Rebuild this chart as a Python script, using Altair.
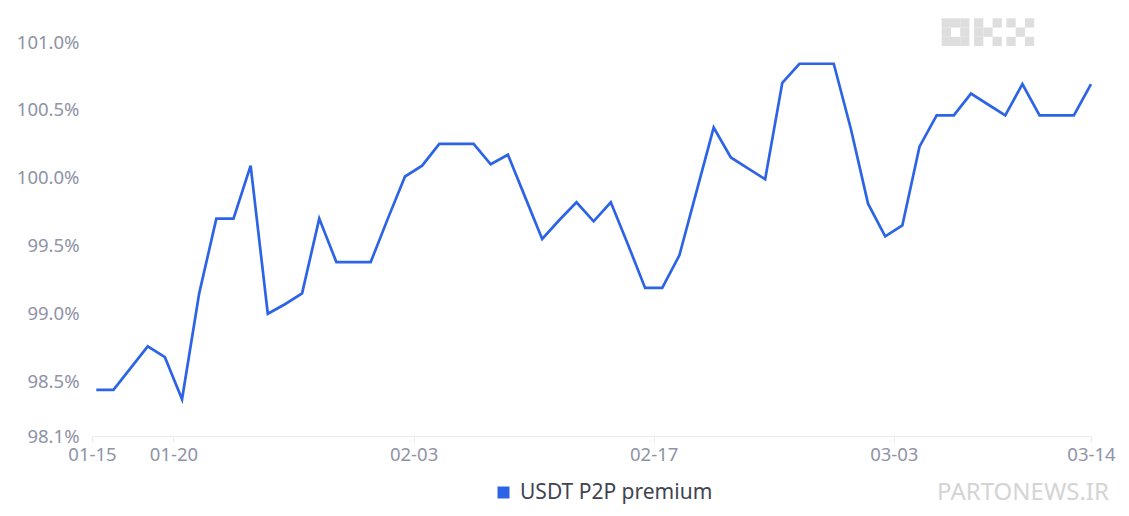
import altair as alt
import pandas as pd
from datetime import datetime, timedelta

# ---------------- data ----------------
series_name = ["USDT P2P premium"]

premium = [98.44, 98.44, 98.60, 98.76, 98.68, 98.37, 99.15, 99.70, 99.70, 100.09,
           99.00, 99.07, 99.15, 99.70, 99.38, 99.38, 99.38, 99.70, 100.01, 100.09,
           100.25, 100.25, 100.25, 100.10, 100.17, 99.86, 99.55, 99.69, 99.82, 99.68,
           99.82, 99.51, 99.19, 99.19, 99.43, 99.90, 100.37, 100.15, 100.07, 99.99,
           100.70, 100.84, 100.84, 100.84, 100.36, 99.81, 99.57, 99.65, 100.23, 100.46,
           100.46, 100.62, 100.54, 100.46, 100.69, 100.46, 100.46, 100.46, 100.69]

start_day = datetime(2023, 1, 15, 12)
dates = [(start_day + timedelta(days=i)).strftime("%Y-%m-%dT%H:%M:%S")
         for i in range(len(premium))]

y_ticks = [98.1, 98.5, 99.0, 99.5, 100.0, 100.5, 101.0]
x_tick_labels = ["01-15", "01-20", "02-03", "02-17", "03-03", "03-14"]

# OKX logo cells (column, row) in logo units
logo_col = [0, 1, 2, 0, 2, 0, 1, 2,
            3.5, 5.5, 3.5, 4.5, 3.5, 5.5,
            7, 9, 8, 7, 9]
logo_row = [0, 0, 0, 1, 1, 2, 2, 2,
            0, 0, 1, 1, 2, 2,
            0, 0, 1, 2, 2]

# ---------------- styles ----------------
LINE_COLOR = "#2d64e6"
AXIS_LABEL_COLOR = "#8e93a6"
AXIS_LINE_COLOR = "#e9ebf0"
FONT = "Noto Sans"

df = pd.DataFrame({"date": dates, "value": premium,
                   "series": [series_name[0]] * len(premium)})

x_values = [
    alt.DateTime(year=2023, month=1, date=15, hours=6),
    alt.DateTime(year=2023, month=1, date=20),
    alt.DateTime(year=2023, month=2, date=3),
    alt.DateTime(year=2023, month=2, date=17),
    alt.DateTime(year=2023, month=3, date=3),
    alt.DateTime(year=2023, month=3, date=14, hours=12),
]
x_domain = [x_values[0], x_values[-1]]

line = alt.Chart(df).mark_line(strokeWidth=2.7, color=LINE_COLOR).encode(
    x=alt.X("date:T",
            scale=alt.Scale(domain=x_domain, nice=False),
            axis=alt.Axis(values=x_values, format="%m-%d", title=None,
                          grid=False, labelFontSize=18.5, labelFont=FONT,
                          labelColor=AXIS_LABEL_COLOR, domainColor=AXIS_LINE_COLOR,
                          tickColor=AXIS_LINE_COLOR, tickSize=6, labelPadding=3,
                          labelFlush=False, labelOverlap=False)),
    y=alt.Y("value:Q",
            scale=alt.Scale(domain=[y_ticks[0], y_ticks[-1]], nice=False, zero=False),
            axis=alt.Axis(values=y_ticks, labelExpr="format(datum.value, '.1f') + '%'",
                          title=None, grid=False, domain=False, ticks=False,
                          labelPadding=13, labelFontSize=18.5, labelFont=FONT,
                          labelColor=AXIS_LABEL_COLOR, labelFlush=False,
                          labelOverlap=False)),
    color=alt.Color("series:N",
                    scale=alt.Scale(domain=series_name, range=[LINE_COLOR]),
                    legend=alt.Legend(orient="none", legendX=401, legendY=440,
                                      title=None, symbolType="square", symbolSize=144,
                                      symbolStrokeWidth=0, symbolFillColor=LINE_COLOR,
                                      symbolStrokeColor=LINE_COLOR, symbolOpacity=1,
                                      labelFontSize=21, labelFont=FONT, labelLimit=500,
                                      labelColor="#3f4450", labelOffset=6, padding=0)),
)

logo_df = pd.DataFrame({"c": logo_col, "r": logo_row})
logo_df["c2"] = logo_df["c"] + 1
logo_df["r2"] = logo_df["r"] + 1

logo = alt.Chart(logo_df).mark_rect(color="#dedede").encode(
    x=alt.X("c:Q", scale=alt.Scale(domain=[0, 10], range=[849.7, 942.2], nice=False, zero=False), axis=None),
    x2="c2:Q",
    y=alt.Y("r:Q", scale=alt.Scale(domain=[0, 3], range=[-23.7, 4], nice=False, zero=False), axis=None),
    y2="r2:Q",
)

watermark = alt.Chart(pd.DataFrame({"a": [0]})).mark_text(
    text="PARTONEWS.IR", fontSize=24, font=FONT, color="#d4d4d4",
    align="center", baseline="middle"
).encode(x=alt.value(931), y=alt.value(451))

chart = alt.layer(logo, line, watermark).resolve_scale(
    x="independent", y="independent"
).properties(
    width=999, height=394,
    autosize=alt.AutoSizeParams(type="none"),
    padding={"left": 84, "top": 34, "right": 30, "bottom": 72},
    background="white",
).configure_view(strokeWidth=0)

chart.save("out.html", embed_options={"renderer": "svg", "actions": False})
